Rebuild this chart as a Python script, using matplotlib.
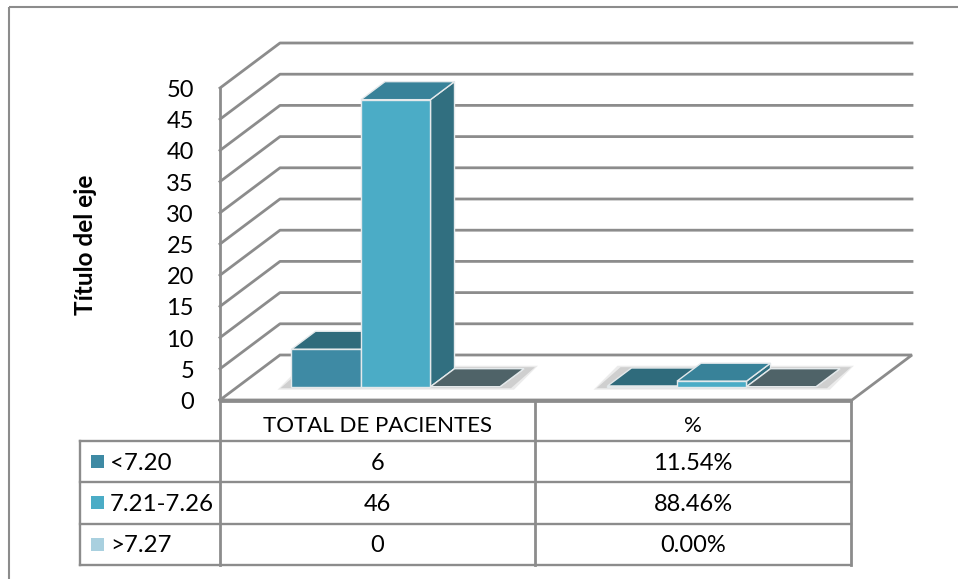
import matplotlib
matplotlib.use('Agg')
import matplotlib.pyplot as plt
from matplotlib.patches import Polygon, Rectangle

plt.rcParams['font.family'] = ['Lato', 'DejaVu Sans']

# datos
categorias = ['TOTAL DE PACIENTES', '%']
series = ['<7.20', '7.21-7.26', '>7.27']
valores_1 = [6, 0.1154]
valores_2 = [46, 0.8846]
valores_3 = [0, 0]
tabla_1 = ['6', '11.54%']
tabla_2 = ['46', '88.46%']
tabla_3 = ['0', '0.00%']
ticks = [0, 5, 10, 15, 20, 25, 30, 35, 40, 45, 50]

# colores
col_frente = ['#3E8AA4', '#4BACC6', '#A9D0DF']
col_lado = ['#316F80', '#316F80', '#4F6368']
col_arriba = ['#2F6B7C', '#388299', '#4F6368']
gris = '#8C8C8C'

fig = plt.figure(figsize=(9.58, 5.79), dpi=100)
ax = fig.add_axes([0, 0, 1, 1])
ax.set_xlim(0, 958)
ax.set_ylim(579, 0)
ax.axis('off')

# escala del eje, en pixeles
esc = 312 / 50
y0 = 400
prof_x, prof_y = 60, 45

def yf(v):
    return y0 - v * esc

# marco
ax.add_patch(Rectangle((9, 7), 960, 600, fill=False, ec=gris, lw=1.5))

# rejilla 3d
for t in ticks:
    lw = 2
    if t == 0:
        ax.plot([220, 220 + prof_x, 912, 912 - prof_x, 220],
                [yf(t), yf(t) - prof_y, yf(t) - prof_y, yf(t), yf(t)],
                color=gris, lw=lw, solid_joinstyle='miter')
    else:
        ax.plot([220, 220 + prof_x, 912],
                [yf(t), yf(t) - prof_y, yf(t) - prof_y], color=gris, lw=lw)
    ax.text(194, yf(t) + 2.5, str(t), ha='right', va='center', fontsize=17, color='black')
ax.plot([220, 220], [yf(0), yf(50)], color=gris, lw=2)
ax.text(85.5, 245, 'Título del eje', rotation=90, ha='center', va='center',
        fontsize=17.5, fontweight='bold')

# barras
base = 386.7
ancho = 69.5
d_x, d_y = 24, 18
inicio = [291.5, 607.5]
for g in range(len(categorias)):
    vals = [valores_1[g], valores_2[g], valores_3[g]]
    # sombra del piso
    x_a = inicio[g] - 8
    x_b = inicio[g] + 3 * ancho + d_x + 8
    for extra, alfa in [(6, 0.14), (3, 0.24)]:
        ax.add_patch(Polygon([(x_a - extra, base + extra / 2), (x_b - d_x + extra, base + extra / 2),
                              (x_b + extra, base - d_y - extra / 2), (x_a + d_x - extra, base - d_y - extra / 2)],
                             closed=True, fc='#777777', ec='none', alpha=alfa, zorder=2))
    for s, v in enumerate(vals):
        x = inicio[g] + s * ancho
        h = v * esc
        top = base - h
        z = 3 + s
        ax.add_patch(Polygon([(x + ancho, base), (x + ancho + d_x, base - d_y),
                              (x + ancho + d_x, top - d_y), (x + ancho, top)],
                             closed=True, fc=col_lado[s], ec='#E4E9EB', lw=1, zorder=z))
        ax.add_patch(Polygon([(x, top), (x + ancho, top), (x + ancho + d_x, top - d_y), (x + d_x, top - d_y)],
                             closed=True, fc=col_arriba[s], ec='#E4E9EB', lw=1, zorder=z))
        if h > 0:
            ax.add_patch(Rectangle((x, top), ancho, h, fc=col_frente[s], ec='#E4E9EB', lw=1, zorder=z))

# tabla de datos
xs = [80, 220, 535, 851]
ys = [401, 441, 482, 523.5, 565]
ax.plot([xs[1], xs[3]], [ys[0], ys[0]], color=gris, lw=2)
for y in ys[1:]:
    ax.plot([xs[0], xs[3]], [y, y], color=gris, lw=1.7)
ax.plot([xs[0], xs[0]], [ys[1], ys[4]], color=gris, lw=1.7)
for x in xs[1:]:
    ax.plot([x, x], [ys[0], ys[4]], color=gris, lw=2)

ax.text((xs[1] + xs[2]) / 2, (ys[0] + ys[1]) / 2 + 5.5, categorias[0], ha='center', va='center', fontsize=16)
ax.text((xs[2] + xs[3]) / 2, (ys[0] + ys[1]) / 2 + 5.5, categorias[1], ha='center', va='center', fontsize=16)

filas = [tabla_1, tabla_2, tabla_3]
for i in range(3):
    yc = (ys[i + 1] + ys[i + 2]) / 2 + 1.5
    ax.add_patch(Rectangle((91, yc - 8), 13, 13, fc=col_frente[i], ec='none'))
    ax.text(110, yc, series[i], ha='left', va='center', fontsize=17.3)
    ax.text((xs[1] + xs[2]) / 2, yc, filas[i][0], ha='center', va='center', fontsize=17)
    ax.text((xs[2] + xs[3]) / 2, yc, filas[i][1], ha='center', va='center', fontsize=17)

fig.savefig('out.png', dpi=100)
